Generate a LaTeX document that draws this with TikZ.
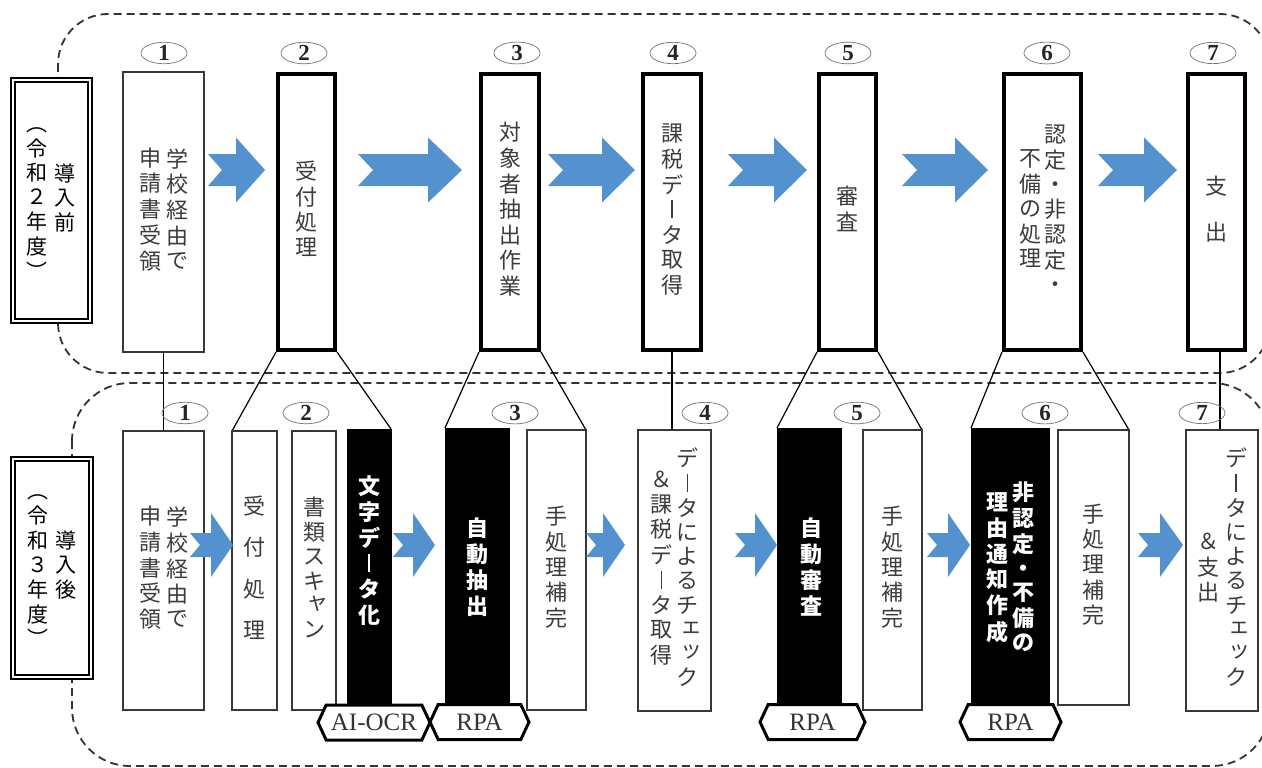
\documentclass[tikz,border=0pt]{standalone}
\usepackage{graphicx}
\usepackage{fontspec}
\setmainfont{Liberation Serif}
\newfontfamily\jp{Noto Sans CJK JP}
\usetikzlibrary{shapes.geometric,shapes.symbols}
\definecolor{arrowblue}{RGB}{83,145,207}
\definecolor{txtgray}{RGB}{60,60,60}
\newcommand\vc[1]{\begin{tabular}[c]{@{}c@{}}#1\end{tabular}}
\newcommand\cho{\rule[-0.02em]{0.06em}{0.82em}}
\newcommand\sk[1]{\makebox[1em][l]{\hspace{0.18em}\raisebox{0.16em}{#1}}}
\newcommand\mybox[7]{%
  \pgfmathsetmacro\bxw{#5-#3}\pgfmathsetmacro\bxh{#6-#4}%
  \pgfmathsetmacro\bxx{(#3+#5)/2}\pgfmathsetmacro\bxy{(#4+#6)/2}%
  \node[#2, minimum width=\bxw pt, minimum height=\bxh pt] (#1) at (\bxx,\bxy) {#7};}
\newcommand\barrow[7]{%
  \fill[blockarrow] ({#1},{#5-#6}) -- ({#3},{#5-#6}) -- ({#3},{#5-#7}) -- ({#4},{#5})
   -- ({#3},{#5+#7}) -- ({#3},{#5+#6}) -- ({#1},{#5+#6}) -- ({#2},{#5}) -- cycle;}
\tikzset{
  thinbox/.style={draw=black!78, line width=1.5pt, fill=white, inner sep=0pt,
    font=\jp\fontsize{22}{24}\selectfont, text=txtgray},
  thickbox/.style={thinbox, draw=black, line width=4pt},
  blackbox/.style={draw=black, fill=black, line width=1pt, inner sep=0pt},
  whitetxt/.style={inner sep=0pt, text=white, font=\jp\bfseries\fontsize{22}{24}\selectfont},
  labelbox/.style={draw=black, double=white, double distance=2.5pt, line width=1.6pt,
    fill=white, inner sep=0pt, font=\jp\fontsize{21}{24}\selectfont, text=black},
  numoval/.style={ellipse, draw=black!55, line width=0.7pt, minimum width=46pt,
    minimum height=20pt, inner sep=0pt, font=\bfseries\fontsize{23}{23}\selectfont, text=black!85},
  tagbox/.style={signal, signal to=east and west, signal pointer angle=130, draw=black,
    line width=3pt, fill=white, inner sep=0pt, minimum height=35pt,
    font=\fontsize{25}{25}\selectfont, text=black!80},
  frame/.style={draw=black!80, line width=1.8pt, dash pattern=on 8pt off 5pt},
  conn/.style={draw=black, line width=1.2pt},
  blockarrow/.style={fill=arrowblue}
}
\begin{document}
\begin{tikzpicture}[x=1pt,y=-1pt]
\useasboundingbox (0,0) rectangle (1262,768);
\fill[white] (0,0) rectangle (1262,768);
% dashed frames
\draw[frame, rounded corners=50pt] (58,14) rectangle (1270,373);
\draw[frame, rounded corners=58pt] (72,383) rectangle (1270,766);
% label boxes
\mybox{lab1}{labelbox}{13}{80}{90}{321}{\vc{︵\\令\\和\\２\\年\\度\\︶}\hspace{7pt}\vc{導\\入\\前}}
\mybox{lab2}{labelbox}{13}{459}{91}{677}{\vc{︵\\令\\和\\３\\年\\度\\︶}\hspace{7pt}\vc{導\\入\\後}}
% top row boxes
\mybox{t1}{thinbox}{123}{72}{204}{352}{\vc{申\\請\\書\\受\\領}\hspace{5pt}\vc{学\\校\\経\\由\\で}}
\mybox{t2}{thickbox}{278}{74}{335}{350}{\vc{受\\付\\処\\理}}
\mybox{t3}{thickbox}{481}{74}{539}{350}{\vc{対\\象\\者\\抽\\出\\作\\業}}
\mybox{t4}{thickbox}{643}{74}{701}{350}{\vc{課\\税\\デ\\\cho\\タ\\取\\得}}
\mybox{t5}{thickbox}{819}{74}{876}{350}{\vc{審\\査}}
\mybox{t6}{thickbox}{1004}{74}{1081}{350}{\vc{不\\備\\の\\処\\理}\hspace{3pt}\vc{認\\定\\・\\非\\認\\定\\・}}
\mybox{t7}{thickbox}{1188}{74}{1245}{350}{\vc{支\\[20pt]出}}
% connectors (drawn under bottom boxes)
\draw[conn] (t1.south) -- (t1.south |- 0,431);
\draw[conn] (t2.south west) -- (232,431);
\draw[conn] (t2.south east) -- (391,429);
\draw[conn] (t3.south west) -- (445,428);
\draw[conn] (t3.south east) -- (586,430);
\draw[conn] (t4.south) -- (t4.south |- 0,430);
\draw[conn] (t5.south west) -- (777,428);
\draw[conn] (t5.south east) -- (922,430);
\draw[conn] (t6.south west) -- (971,428);
\draw[conn] (t6.south east) -- (1129,430);
\draw[conn] ([xshift=3.5pt]t7.south) -- ([xshift=3.5pt]t7.south |- 0,430);
% bottom row boxes
\mybox{b1}{thinbox}{123}{431}{204}{710}{\vc{申\\請\\書\\受\\領}\hspace{5pt}\vc{学\\校\\経\\由\\で}}
\mybox{b2a}{thinbox}{232}{431}{277}{710}{\vc{受\\[16pt]付\\[16pt]処\\[16pt]理}}
\mybox{b2b}{thinbox}{292}{431}{336}{710}{\vc{書\\類\\ス\\キ\\\sk{ャ}\\ン}}
\mybox{b2c}{blackbox}{347}{429}{391}{712}{}
\node[whitetxt] (b2ct) at (369,553) {\vc{文\\字\\デ\\\cho\\タ\\化}};
\mybox{b3a}{blackbox}{445}{428}{509}{712}{}
\node[whitetxt] (b3at) at (477,570) {\vc{自\\動\\抽\\出}};
\mybox{b3b}{thinbox}{527}{430}{586}{710}{\vc{手\\処\\理\\補\\完}}
\mybox{b4}{thinbox}{638}{430}{711}{711}{\vc{＆\\課\\税\\デ\\\cho\\タ\\取\\得}\hspace{4pt}\vc{デ\\\cho\\タ\\に\\よ\\る\\チ\\\sk{ェ}\\\sk{ッ}\\ク}}
\mybox{b5a}{blackbox}{777}{428}{841}{712}{}
\node[whitetxt] (b5at) at (811,570) {\vc{自\\動\\審\\査}};
\mybox{b5b}{thinbox}{863}{430}{922}{710}{\vc{手\\処\\理\\補\\完}}
\mybox{b6a}{blackbox}{971}{428}{1049}{712}{}
\node[whitetxt] (b6at) at (1010,570) {\vc{理\\由\\通\\知\\作\\成}\hspace{4pt}\vc{非\\認\\定\\・\\不\\備\\の}};
\mybox{b6b}{thinbox}{1058}{430}{1129}{705}{\vc{手\\処\\理\\補\\完}}
\mybox{b7}{thinbox}{1186}{430}{1258}{711}{\vc{＆\\支\\出}\hspace{6pt}\vc{デ\\\cho\\タ\\に\\よ\\る\\チ\\\sk{ェ}\\\sk{ッ}\\ク}}
% block arrows, top row
\barrow{208}{222}{236}{265}{170}{16}{32.5}
\barrow{358}{373}{428}{462}{170}{16}{32.5}
\barrow{548}{563}{602}{635}{170}{16}{32.5}
\barrow{728}{743}{774}{807}{170}{16}{32.5}
\barrow{902}{917}{955}{988}{170}{16}{32.5}
\barrow{1098}{1113}{1144}{1177}{170}{16}{32.5}
% block arrows, bottom row
\barrow{190}{200}{211}{233}{545}{12}{32}
\barrow{393}{403}{413}{435}{545}{12}{32}
\barrow{586}{596}{603}{625}{545}{12}{32}
\barrow{735}{745}{755}{777}{545}{12}{32}
\barrow{927}{937}{948}{970}{545}{12}{32}
\barrow{1138}{1148}{1160}{1183}{545}{12}{32}
% step numbers
\node[numoval] (n1) at (164,53) {1};
\node[numoval] (n2) at (304,53) {2};
\node[numoval] (n3) at (517,53) {3};
\node[numoval] (n4) at (673,53) {4};
\node[numoval] (n5) at (848,53) {5};
\node[numoval] (n6) at (1047,53) {6};
\node[numoval] (n7) at (1213,53) {7};
\node[numoval] (m1) at (185,413) {1};
\node[numoval] (m2) at (306,413) {2};
\node[numoval] (m3) at (515,413) {3};
\node[numoval] (m4) at (705,413) {4};
\node[numoval] (m5) at (857,413) {5};
\node[numoval] (m6) at (1045,413) {6};
\node[numoval] (m7) at (1202,413) {7};
% tags
\node[tagbox, minimum width=112pt] (ocr) at (374,722.5) {AI-OCR};
\node[tagbox, minimum width=99pt] (rpa1) at (479.5,722) {RPA};
\node[tagbox, minimum width=105pt] (rpa2) at (812.5,722) {RPA};
\node[tagbox, minimum width=101pt] (rpa3) at (1010.5,722) {RPA};
\end{tikzpicture}
\end{document}
